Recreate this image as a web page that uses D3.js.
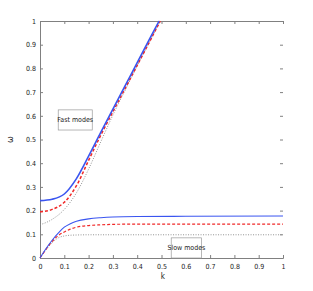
<!DOCTYPE html>
<html>
<head>
<meta charset="utf-8">
<script src="https://cdn.jsdelivr.net/npm/d3@7"></script>
<style>
  body { margin: 0; background: #fff; }
  text { font-family: "DejaVu Sans Condensed", "Liberation Sans Narrow", sans-serif; }
</style>
</head>
<body>
<div id="chart"></div>
<script>
// k values and curves
var kFast = [0, 0.05, 0.1, 0.15, 0.2, 0.25, 0.3, 0.35, 0.4, 0.45, 0.49];
var fastBlue = [0.242, 0.248, 0.27, 0.335, 0.43, 0.53, 0.628, 0.726, 0.824, 0.922, 1.0];
var kFastRed = [0, 0.05, 0.1, 0.15, 0.2, 0.25, 0.3, 0.35, 0.4, 0.45, 0.495];
var fastRed = [0.195, 0.205, 0.235, 0.305, 0.412, 0.518, 0.617, 0.715, 0.813, 0.911, 1.0];
var fastGray = [0.14, 0.163, 0.205, 0.275, 0.375, 0.49, 0.603, 0.707, 0.81, 0.91, 1.0];

var kSlow = [0, 0.025, 0.05, 0.075, 0.1, 0.125, 0.15, 0.2, 0.25, 0.3, 0.4, 0.6, 1.0];
var slowBlue = [0, 0.04, 0.075, 0.105, 0.13, 0.145, 0.155, 0.165, 0.17, 0.173, 0.175, 0.176, 0.177];
var slowRed = [0, 0.037, 0.07, 0.095, 0.11, 0.122, 0.13, 0.137, 0.14, 0.142, 0.143, 0.143, 0.143];
var slowGray = [0, 0.035, 0.065, 0.085, 0.093, 0.096, 0.097, 0.098, 0.098, 0.098, 0.098, 0.098, 0.098];

var xTicks = [0, 0.1, 0.2, 0.3, 0.4, 0.5, 0.6, 0.7, 0.8, 0.9, 1];
var yTicks = [0, 0.1, 0.2, 0.3, 0.4, 0.5, 0.6, 0.7, 0.8, 0.9, 1];

var W = 313, H = 291;
var margin = {top: 21, right: 30, bottom: 33, left: 40},
    width = W - margin.left - margin.right,
    height = H - margin.top - margin.bottom;

var svg = d3.select("#chart").append("svg")
    .attr("width", W).attr("height", H)
  .append("g")
    .attr("transform", "translate(" + margin.left + "," + margin.top + ")");

var x = d3.scaleLinear().domain([0, 1]).range([0, width]);
var y = d3.scaleLinear().domain([0, 1]).range([height, 0]);

var axisColor = "#808080";

// bottom axis
var gx = svg.append("g")
    .attr("transform", "translate(0," + height + ")")
    .call(d3.axisBottom(x).tickValues(xTicks).tickSize(-3).tickPadding(6).tickFormat(d3.format("")));
// left axis
var gy = svg.append("g")
    .call(d3.axisLeft(y).tickValues(yTicks).tickSize(-3).tickPadding(4).tickFormat(d3.format("")));
// top axis (ticks only, no labels)
var gt = svg.append("g")
    .call(d3.axisTop(x).tickValues(xTicks).tickSize(-3).tickFormat(""));
// right side ticks only
var gr = svg.append("g")
    .attr("transform", "translate(" + width + ",0)")
    .call(d3.axisRight(y).tickValues(yTicks).tickSize(-3).tickFormat(""));
gr.select(".domain").remove();

[gx, gy, gt, gr].forEach(function(g) {
  g.attr("font-family", null);
  g.selectAll("path, line").attr("stroke", axisColor);
  g.selectAll("text").attr("fill", "#222").style("font-size", "7px");
});

// axis labels
svg.append("text")
    .attr("x", x(0.505)).attr("y", height + 21)
    .attr("text-anchor", "middle")
    .style("font-size", "8px").attr("fill", "#222")
    .text("k");
svg.append("text")
    .attr("transform", "translate(" + (-30) + "," + y(0.5) + ") rotate(-90)")
    .attr("text-anchor", "middle")
    .attr("dy", "0.35em")
    .style("font-size", "9px").attr("fill", "#222")
    .text("ω");

var line = d3.line()
  .x(function(d) { return x(d[0]); })
  .y(function(d) { return y(d[1]); })
  .curve(d3.curveMonotoneX);

function draw(ks, vals, color, w, dash) {
  svg.append("path")
    .datum(ks.map(function(k, i) { return [k, vals[i]]; }))
    .attr("fill", "none")
    .attr("stroke", color)
    .attr("stroke-width", w)
    .attr("stroke-dasharray", dash)
    .attr("d", line);
}

var blue = "#3a55f0", red = "#f02828", gray = "#888";

draw(kFastRed, fastGray, gray, 0.9, "1,1.5");
draw(kSlow, slowGray, gray, 0.9, "1,1.5");
draw(kFastRed, fastRed, red, 1.5, "3,2");
draw(kSlow, slowRed, red, 1.2, "3,2");
draw(kFast, fastBlue, blue, 1.6, null);
draw(kSlow, slowBlue, blue, 1.1, null);

// annotation boxes
function box(x0, y0, x1, y1, label) {
  var g = svg.append("g");
  g.append("rect")
    .attr("x", x(x0)).attr("y", y(y1))
    .attr("width", x(x1) - x(x0)).attr("height", y(y0) - y(y1))
    .attr("fill", "#fff").attr("stroke", "#999").attr("stroke-width", 0.7);
  g.append("text")
    .attr("x", (x(x0) + x(x1)) / 2).attr("y", (y(y0) + y(y1)) / 2)
    .attr("dy", "0.35em").attr("text-anchor", "middle")
    .style("font-size", "7px").attr("fill", "#222")
    .text(label);
}
box(0.075, 0.54, 0.215, 0.625, "Fast modes");
box(0.54, 0.0, 0.665, 0.085, "Slow modes");
</script>
</body>
</html>
